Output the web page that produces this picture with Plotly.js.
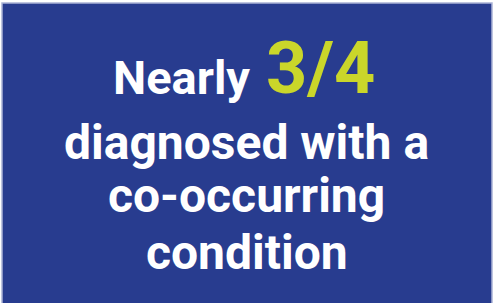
<!DOCTYPE html>
<html>
<head>
<meta charset="utf-8">
<script src="https://cdn.plot.ly/plotly-3.0.1.min.js"></script>
<style>html,body{margin:0;padding:0;background:#fff;}#chart{width:495px;height:303px;}</style>
</head>
<body>
<div id="chart"></div>
<script>
// Text content of the infographic
const leadText = "Nearly";
const highlightText = "3/4";
const bodyLines = ["diagnosed with a", "co-occurring", "condition"];

const W = 495, H = 303;
const px = x => x / W;
const py = y => 1 - y / H;

const white = "#ffffff";
const accent = "#cad62a";
const blue = "#283c8f";
const fontFam = "Roboto, 'Noto Sans', sans-serif";

const bodyCenters = [142, 196, 252];

const annotations = [
  {x: px(252), y: py(77), xref: "paper", yref: "paper", text: "<b>" + leadText + "</b>",
   showarrow: false, xanchor: "right", yanchor: "middle",
   font: {family: fontFam, size: 47, color: white}},
  {x: px(264), y: py(68), xref: "paper", yref: "paper", text: "<b>" + highlightText + "</b>",
   showarrow: false, xanchor: "left", yanchor: "middle",
   font: {family: fontFam, size: 72, color: accent}}
];
bodyLines.forEach((t, i) => {
  annotations.push({x: px(246.5), y: py(bodyCenters[i]), xref: "paper", yref: "paper",
    text: "<b>" + t + "</b>", showarrow: false, xanchor: "center", yanchor: "middle",
    font: {family: fontFam, size: 48, color: white}});
});

const layout = {
  width: W, height: H,
  margin: {l: 0, r: 0, t: 0, b: 0},
  paper_bgcolor: "#ffffff", plot_bgcolor: "#ffffff",
  xaxis: {visible: false, range: [0, 1], fixedrange: true},
  yaxis: {visible: false, range: [0, 1], fixedrange: true},
  showlegend: false,
  shapes: [{type: "rect", xref: "paper", yref: "paper",
    x0: px(2), x1: px(492), y0: py(304), y1: py(3),
    fillcolor: blue, line: {color: "#aab3d6", width: 1.5}, layer: "below"}],
  annotations: annotations
};

Plotly.newPlot("chart", [], layout, {displayModeBar: false, staticPlot: true});
</script>
</body>
</html>
